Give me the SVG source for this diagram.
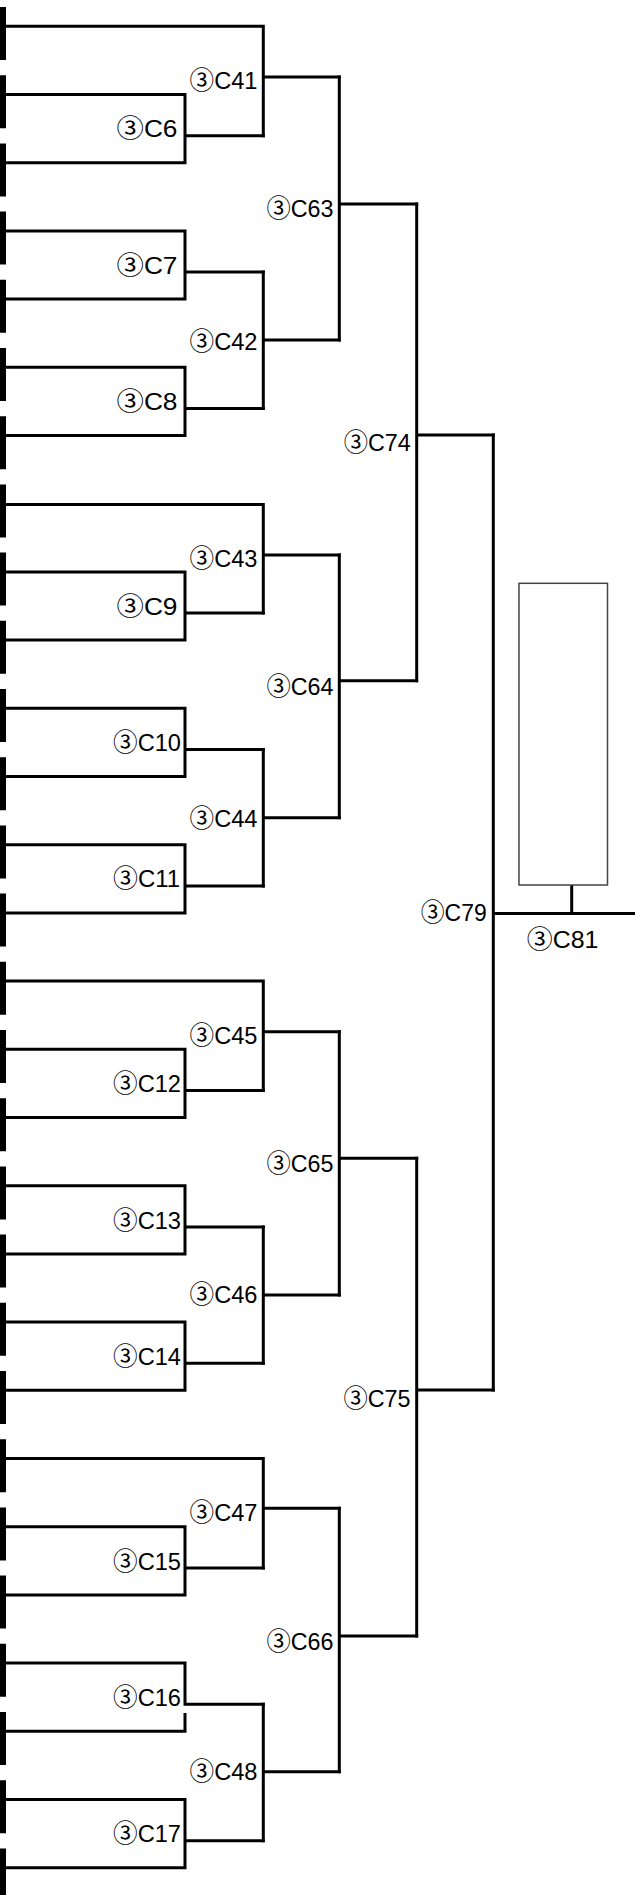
<svg xmlns="http://www.w3.org/2000/svg" width="635" height="1895" viewBox="0 0 635 1895">
<style>
.ln{fill:none;stroke:#000;stroke-width:3;stroke-linecap:square;stroke-linejoin:miter}
.bar{fill:none;stroke:#000;stroke-width:6;stroke-dasharray:53 15.2}
.box{fill:#fff;stroke:#444;stroke-width:1.5}
.lb{font-family:'Liberation Sans','Noto Sans CJK JP',sans-serif;font-size:24px;fill:#000}
.c{font-family:'Noto Sans CJK JP',sans-serif;font-size:25px}
.e{text-anchor:end}
</style>
<rect width="635" height="1895" fill="#fff"/>
<line class="bar" x1="3" y1="7" x2="3" y2="1895"/>
<g id="connectors">
<path class="ln" d="M0 94.5H185V162.7H0M185 135.7H263.3"/>
<path class="ln" d="M0 230.9H185V299.1H0M185 272.1H263.3"/>
<path class="ln" d="M0 367.3H185V435.5H0M185 408.5H263.3"/>
<path class="ln" d="M0 572H185V640.1H0M185 613.1H263.3"/>
<path class="ln" d="M0 708.3H185V776.5H0M185 749.5H263.3"/>
<path class="ln" d="M0 844.7H185V912.9H0M185 885.9H263.3"/>
<path class="ln" d="M0 1049.3H185V1117.5H0M185 1090.5H263.3"/>
<path class="ln" d="M0 1185.7H185V1253.9H0M185 1226.9H263.3"/>
<path class="ln" d="M0 1322.1H185V1390.3H0M185 1363.3H263.3"/>
<path class="ln" d="M0 1526.7H185V1594.9H0M185 1567.9H263.3"/>
<path class="ln" d="M0 1663.1H185V1704.3M185 1714.5V1731.3H0M185 1704.3H263.3"/>
<path class="ln" d="M0 1799.5H185V1867.7H0M185 1840.7H263.3"/>
<path class="ln" d="M0 26.3H263.3V135.7M263.3 77H339.3"/>
<path class="ln" d="M263.3 272.1V408.5M263.3 340H339.3"/>
<path class="ln" d="M0 504.5H263.3V613.1M263.3 555H339.3"/>
<path class="ln" d="M263.3 749.5V885.9M263.3 817.7H339.3"/>
<path class="ln" d="M0 981.1H263.3V1090.5M263.3 1031.7H339.3"/>
<path class="ln" d="M263.3 1226.9V1363.3M263.3 1295H339.3"/>
<path class="ln" d="M0 1458.5H263.3V1567.9M263.3 1508.3H339.3"/>
<path class="ln" d="M263.3 1704.3V1840.7M263.3 1771.7H339.3"/>
<path class="ln" d="M339.3 77V340M339.3 204H416.7"/>
<path class="ln" d="M339.3 555V817.7M339.3 680.7H416.7"/>
<path class="ln" d="M339.3 1031.7V1295M339.3 1158.3H416.7"/>
<path class="ln" d="M339.3 1508.3V1771.7M339.3 1636H416.7"/>
<path class="ln" d="M416.7 204V680.7M416.7 435H493.3"/>
<path class="ln" d="M416.7 1158.3V1636M416.7 1390H493.3"/>
<path class="ln" d="M493.3 435V1390M493.3 913.5H636"/>
<path class="ln" d="M571.7 886V912"/>
</g>
<g id="winner-box"><rect class="box" x="519" y="583.3" width="88.5" height="301.7"/></g>
<g id="C6"><text class="lb e" x="177.5" y="137" textLength="61" lengthAdjust="spacingAndGlyphs"><tspan class="c">③</tspan>C6</text></g>
<g id="C7"><text class="lb e" x="177.5" y="273.5" textLength="61" lengthAdjust="spacingAndGlyphs"><tspan class="c">③</tspan>C7</text></g>
<g id="C8"><text class="lb e" x="177.5" y="410" textLength="61" lengthAdjust="spacingAndGlyphs"><tspan class="c">③</tspan>C8</text></g>
<g id="C9"><text class="lb e" x="177.5" y="614.5" textLength="61" lengthAdjust="spacingAndGlyphs"><tspan class="c">③</tspan>C9</text></g>
<g id="C10"><text class="lb e" x="181" y="751" textLength="68" lengthAdjust="spacingAndGlyphs"><tspan class="c">③</tspan>C10</text></g>
<g id="C11"><text class="lb e" x="180" y="887" textLength="67" lengthAdjust="spacingAndGlyphs"><tspan class="c">③</tspan>C11</text></g>
<g id="C12"><text class="lb e" x="181" y="1092" textLength="68" lengthAdjust="spacingAndGlyphs"><tspan class="c">③</tspan>C12</text></g>
<g id="C13"><text class="lb e" x="181" y="1228.5" textLength="68" lengthAdjust="spacingAndGlyphs"><tspan class="c">③</tspan>C13</text></g>
<g id="C14"><text class="lb e" x="181" y="1364.5" textLength="68" lengthAdjust="spacingAndGlyphs"><tspan class="c">③</tspan>C14</text></g>
<g id="C15"><text class="lb e" x="181" y="1569.5" textLength="68" lengthAdjust="spacingAndGlyphs"><tspan class="c">③</tspan>C15</text></g>
<g id="C16"><text class="lb e" x="181" y="1706" textLength="68" lengthAdjust="spacingAndGlyphs"><tspan class="c">③</tspan>C16</text></g>
<g id="C17"><text class="lb e" x="181" y="1842" textLength="68" lengthAdjust="spacingAndGlyphs"><tspan class="c">③</tspan>C17</text></g>
<g id="C41"><text class="lb e" x="257.5" y="88.5" textLength="68" lengthAdjust="spacingAndGlyphs"><tspan class="c">③</tspan>C41</text></g>
<g id="C42"><text class="lb e" x="257.5" y="349.5" textLength="68" lengthAdjust="spacingAndGlyphs"><tspan class="c">③</tspan>C42</text></g>
<g id="C43"><text class="lb e" x="257.5" y="566.5" textLength="68" lengthAdjust="spacingAndGlyphs"><tspan class="c">③</tspan>C43</text></g>
<g id="C44"><text class="lb e" x="257.5" y="827" textLength="68" lengthAdjust="spacingAndGlyphs"><tspan class="c">③</tspan>C44</text></g>
<g id="C45"><text class="lb e" x="257.5" y="1043.5" textLength="68" lengthAdjust="spacingAndGlyphs"><tspan class="c">③</tspan>C45</text></g>
<g id="C46"><text class="lb e" x="257.5" y="1303" textLength="68" lengthAdjust="spacingAndGlyphs"><tspan class="c">③</tspan>C46</text></g>
<g id="C47"><text class="lb e" x="257.5" y="1521" textLength="68" lengthAdjust="spacingAndGlyphs"><tspan class="c">③</tspan>C47</text></g>
<g id="C48"><text class="lb e" x="257.5" y="1779.5" textLength="68" lengthAdjust="spacingAndGlyphs"><tspan class="c">③</tspan>C48</text></g>
<g id="C63"><text class="lb e" x="333.5" y="217" textLength="67" lengthAdjust="spacingAndGlyphs"><tspan class="c">③</tspan>C63</text></g>
<g id="C64"><text class="lb e" x="333.5" y="694.5" textLength="67" lengthAdjust="spacingAndGlyphs"><tspan class="c">③</tspan>C64</text></g>
<g id="C65"><text class="lb e" x="333.5" y="1172" textLength="67" lengthAdjust="spacingAndGlyphs"><tspan class="c">③</tspan>C65</text></g>
<g id="C66"><text class="lb e" x="333.5" y="1649.5" textLength="67" lengthAdjust="spacingAndGlyphs"><tspan class="c">③</tspan>C66</text></g>
<g id="C74"><text class="lb e" x="410.7" y="451" textLength="67" lengthAdjust="spacingAndGlyphs"><tspan class="c">③</tspan>C74</text></g>
<g id="C75"><text class="lb e" x="410.5" y="1407" textLength="67" lengthAdjust="spacingAndGlyphs"><tspan class="c">③</tspan>C75</text></g>
<g id="C79"><text class="lb e" x="486.7" y="921" textLength="66" lengthAdjust="spacingAndGlyphs"><tspan class="c">③</tspan>C79</text></g>
<g id="C81"><text class="lb" x="526.7" y="947.5" textLength="71.7" lengthAdjust="spacingAndGlyphs"><tspan class="c">③</tspan>C81</text></g>
</svg>
